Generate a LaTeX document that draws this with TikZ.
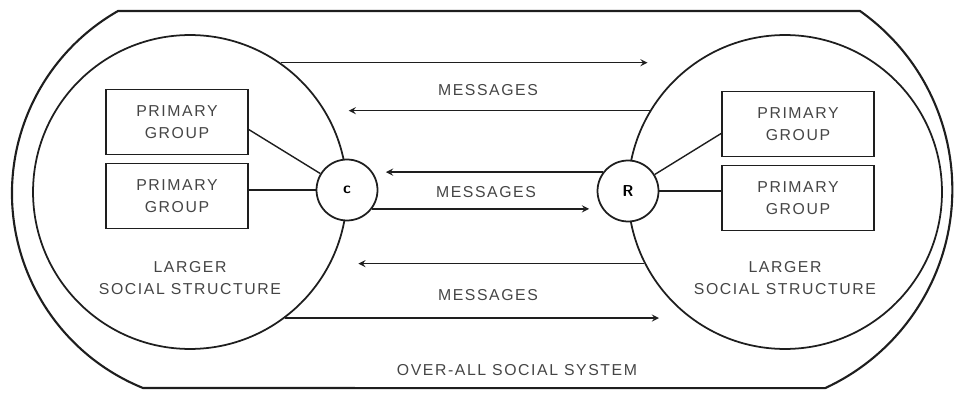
\documentclass[tikz,border=0pt]{standalone}
\usepackage{fontspec}
\usepackage{tikz}
\usetikzlibrary{arrows,positioning}
\newfontfamily\ssfont[LetterSpace=10]{Liberation Sans}
\definecolor{ssInk}{HTML}{1E1E1E}
\definecolor{ssText}{HTML}{454545}

\begin{document}
\begin{tikzpicture}[>=stealth,x=0.02cm,y=0.02cm,
  ink/.style={draw=ssInk,line width=1pt},
  lbl/.style={text=ssText,font=\ssfont\fontsize{9}{12.5}\selectfont,align=center,inner sep=0pt},
  pgbox/.style={ink,lbl,line width=0.9pt,minimum height=1.3cm},
  agent/.style={ink,circle,minimum size=1.22cm,inner sep=0pt,font=\sffamily\bfseries\small},
  ring/.style={ink,circle,minimum size=6.28cm,inner sep=0pt},
  msg/.style={->,ssInk,line width=0.8pt}]
\useasboundingbox (0,0) rectangle (955,392);
\draw[ssInk,line width=1.2pt] (118,381) -- (860,381)
  arc[start angle=54.7,end angle=-65.3,radius=218.7] -- (143,4)
  arc[start angle=247.9,end angle=119.7,radius=210] -- cycle;
\node[ring] (lss) at (190,200) {};
\node[ring] (rss) at (785,200) {};
\node[agent,fill=white] (C) at (347,202) {c};
\node[agent,fill=white] (R) at (628,201) {R};
\node[pgbox,minimum width=2.84cm] (lpg1) at (177,270) {PRIMARY\\GROUP};
\node[pgbox,minimum width=2.84cm] (lpg2) at (177,196) {PRIMARY\\GROUP};
\node[pgbox,minimum width=3.04cm] (rpg1) at (798,268) {PRIMARY\\GROUP};
\node[pgbox,minimum width=3.04cm] (rpg2) at (798,194) {PRIMARY\\GROUP};
\draw[ink,line width=0.8pt] (lpg1.-6) -- (C);
\draw[ink,line width=0.8pt] (C.west -| lpg2.east) -- (C.west);
\draw[ink,line width=0.8pt] (rpg1.187) -- (R);
\draw[ink,line width=0.8pt] (R.east -| rpg2.west) -- (R.east);
\node[lbl] (llab) at (190,114) {LARGER\\SOCIAL STRUCTURE};
\node[lbl] (rlab) at (785,114) {LARGER\\SOCIAL STRUCTURE};
\draw[msg] (lss.55.9) -- ++(367,0);
\draw[msg] (rss.149.8) -- ++(-301,0);
\draw[msg] (R.143) -- ++(-217,0);
\draw[msg] (C.-37) -- ++(217,0);
\draw[msg] (rss.207.7) -- ++(-286,0);
\draw[msg] (lss.-53.4) -- ++(374,0);
\node[lbl] (m1) at (488,302) {MESSAGES};
\node[lbl] (m2) at (486,200) {MESSAGES};
\node[lbl] (m3) at (488,97) {MESSAGES};
\node[lbl] (sys) at (517,22) {OVER-ALL SOCIAL SYSTEM};
\end{tikzpicture}
\end{document}
